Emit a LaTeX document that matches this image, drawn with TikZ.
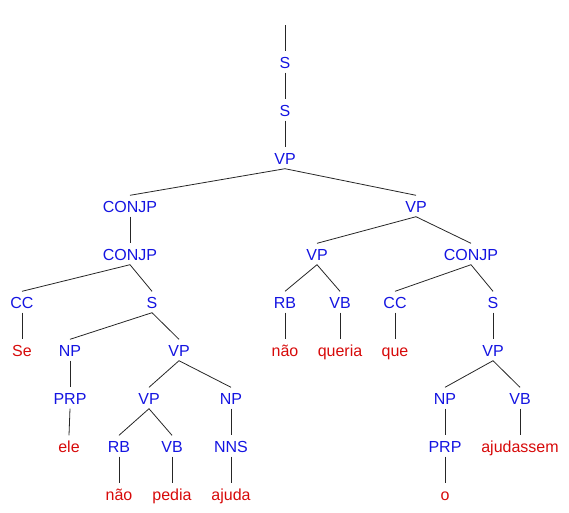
\documentclass[tikz,border=0pt]{standalone}
\usepackage{fontspec}
\setmainfont{Liberation Sans}
\definecolor{tagblue}{RGB}{20,20,225}
\definecolor{wordred}{RGB}{215,10,10}
\begin{document}
\begin{tikzpicture}[x=1pt,y=-1pt,
  lab/.style={anchor=base,font=\fontsize{16}{18}\selectfont,text height=12pt,text depth=0pt,inner xsep=1pt,inner ysep=4.5pt},
  tag/.style={lab,text=tagblue},
  word/.style={lab,text=wordred},
  edge/.style={draw=black!85,line width=0.8pt}]
\useasboundingbox (0,0) rectangle (569,512);
% row baselines
\coordinate (top) at (285,25);
\node[tag] (s1) at (285,68) {S};
\node[tag] (s2) at (285,116) {S};
\node[tag] (vp0) at (285,164) {VP};
\node[tag] (cj1) at (130,212) {CONJP};
\node[tag] (vp1) at (416,212) {VP};
\node[tag] (cj2) at (130,260) {CONJP};
\node[tag] (vp2) at (317,260) {VP};
\node[tag] (cj3) at (471,260) {CONJP};
\node[tag] (cc1) at (22,308) {CC};
\node[tag] (s3) at (152,308) {S};
\node[tag] (rb1) at (285,308) {RB};
\node[tag] (vb1) at (340,308) {VB};
\node[tag] (cc2) at (395,308) {CC};
\node[tag] (s4) at (493,308) {S};
\node[word] (w1) at (22,356) {Se};
\node[tag] (np1) at (70,356) {NP};
\node[tag] (vp3) at (179,356) {VP};
\node[word] (w2) at (285,356) {não};
\node[word] (w3) at (340,356) {queria};
\node[word] (w4) at (395,356) {que};
\node[tag] (vp4) at (493,356) {VP};
\node[tag] (prp1) at (70,404) {PRP};
\node[tag] (vp5) at (149,404) {VP};
\node[tag] (np2) at (231,404) {NP};
\node[tag] (np3) at (445,404) {NP};
\node[tag] (vb2) at (520,404) {VB};
\node[word] (w5) at (69,452) {ele};
\node[tag] (rb2) at (119,452) {RB};
\node[tag] (vb3) at (172,452) {VB};
\node[tag] (nns) at (231,452) {NNS};
\node[tag] (prp2) at (445,452) {PRP};
\node[word] (w6) at (520,452) {ajudassem};
\node[word] (w7) at (119,500) {não};
\node[word] (w8) at (172,500) {pedia};
\node[word] (w9) at (231,500) {ajuda};
\node[word] (w10) at (445,500) {o};
% edges
\draw[edge] (top) -- (s1.north);
\foreach \p/\c in {s1/s2,s2/vp0,vp0/cj1,vp0/vp1,cj1/cj2,vp1/vp2,vp1/cj3,
  cj2/cc1,cj2/s3,vp2/rb1,vp2/vb1,cj3/cc2,cj3/s4,
  cc1/w1,s3/np1,s3/vp3,rb1/w2,vb1/w3,cc2/w4,s4/vp4,
  np1/prp1,vp3/vp5,vp3/np2,vp4/np3,vp4/vb2,
  prp1/w5,vp5/rb2,vp5/vb3,np2/nns,np3/prp2,vb2/w6,
  rb2/w7,vb3/w8,nns/w9,prp2/w10}
  \draw[edge] (\p.south) -- (\c.north);
\end{tikzpicture}
\end{document}
